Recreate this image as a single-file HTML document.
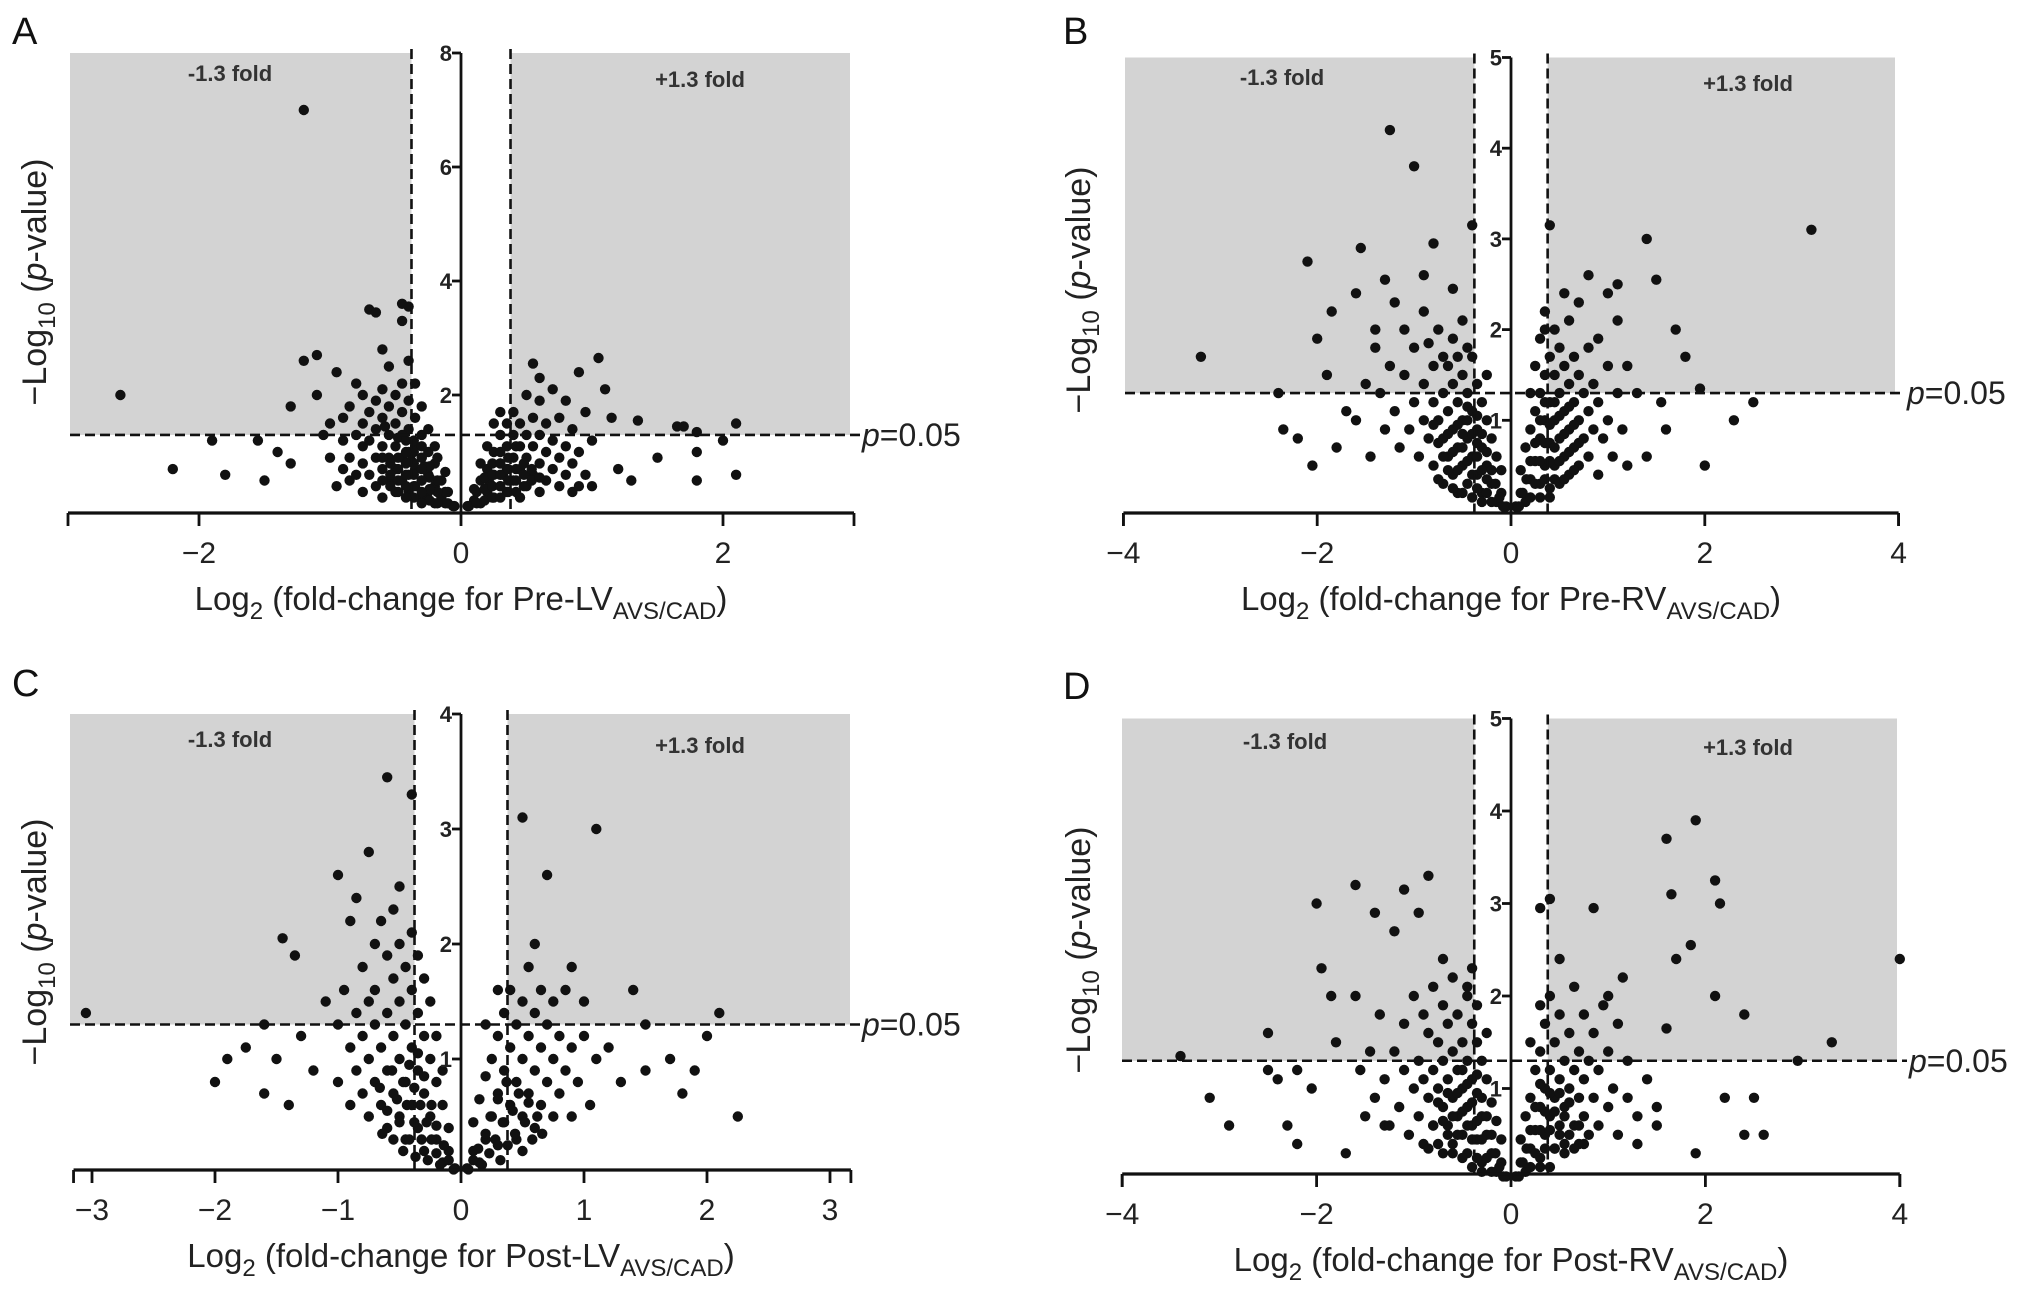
<!DOCTYPE html>
<html><head><meta charset="utf-8">
<style>
html,body{margin:0;padding:0;background:#fff;}
svg{display:block;font-family:"Liberation Sans",Arial,sans-serif;}
</style></head>
<body>
<svg id="fig" width="2032" height="1302" viewBox="0 0 2032 1302"></svg>
<script>
// Panel A data (x: log2 FC, y: -log10 p)
const ptsA=[[-1.2,7.0],[-2.6,2.0],[-2.2,0.7],[-1.9,1.2],[-1.8,0.6],[-1.55,1.2],[-1.5,0.5],[-1.4,1.0],[-1.3,1.8],[-1.3,0.8],[-1.2,2.6],[-1.1,2.7],[-1.1,2.0],[-1.05,1.3],[-1.0,0.9],[-0.95,2.4],[-0.9,1.6],[-0.85,0.5],[-0.8,2.2],[-0.75,1.1],[-0.7,3.5],[-0.65,3.45],[-0.6,2.8],[-0.55,2.5],[-0.45,3.6],[-0.4,3.55],[-0.45,3.3],[-0.4,2.6],
[-0.05,0.05],[-0.1,0.1],[-0.1,0.3],[-0.15,0.2],[-0.15,0.5],[-0.2,0.1],[-0.2,0.4],[-0.2,0.8],[-0.25,0.3],[-0.25,0.6],[-0.25,1.0],[-0.3,0.2],[-0.3,0.5],[-0.3,0.9],[-0.3,1.3],[-0.35,0.4],[-0.35,0.7],[-0.35,1.1],[-0.35,1.6],[-0.4,0.3],[-0.4,0.6],[-0.4,1.0],[-0.4,1.4],[-0.4,1.9],[-0.45,0.5],[-0.45,0.9],[-0.45,1.3],[-0.45,1.7],[-0.45,2.2],[-0.5,0.3],[-0.5,0.7],[-0.5,1.1],[-0.5,1.5],[-0.5,2.0],[-0.55,0.5],[-0.55,0.9],[-0.55,1.3],[-0.55,1.8],[-0.6,0.2],[-0.6,0.7],[-0.6,1.1],[-0.6,1.6],[-0.6,2.1],[-0.65,0.4],[-0.65,0.9],[-0.65,1.4],[-0.65,1.9],[-0.7,0.6],[-0.7,1.2],[-0.7,1.7],[-0.75,0.3],[-0.75,0.8],[-0.75,1.5],[-0.75,2.0],[-0.8,0.6],[-0.8,1.3],[-0.85,0.9],[-0.85,1.8],[-0.9,0.7],[-0.9,1.2],[-0.95,0.4],[-1.0,1.5],[-0.3,1.8],[-0.35,2.2],[-0.25,1.4],[-0.2,1.1],[-0.12,0.65],[-0.18,0.9],[-0.28,0.75],[-0.38,0.85],[-0.48,1.25],[-0.58,1.45],
[0.05,0.05],[0.1,0.15],[0.1,0.35],[0.15,0.1],[0.15,0.5],[0.2,0.3],[0.2,0.7],[0.2,1.1],[0.25,0.2],[0.25,0.6],[0.25,1.0],[0.25,1.5],[0.3,0.4],[0.3,0.8],[0.3,1.3],[0.3,1.7],[0.35,0.3],[0.35,0.7],[0.35,1.1],[0.35,1.5],[0.4,0.5],[0.4,0.9],[0.4,1.3],[0.4,1.7],[0.45,0.2],[0.45,0.7],[0.45,1.1],[0.45,1.5],[0.5,0.4],[0.5,0.9],[0.5,1.3],[0.5,2.0],[0.55,0.6],[0.55,1.1],[0.55,1.6],[0.6,0.3],[0.6,0.8],[0.6,1.3],[0.6,1.9],[0.65,0.5],[0.65,1.0],[0.65,1.5],[0.7,0.7],[0.7,1.2],[0.7,2.1],[0.75,0.4],[0.75,0.9],[0.75,1.6],[0.8,0.6],[0.8,1.1],[0.8,1.9],[0.85,0.3],[0.85,0.8],[0.85,1.4],[0.9,1.0],[0.95,0.6],[0.95,1.7],[1.0,1.2],[1.0,0.4],[0.15,0.8],[0.22,0.45],[0.32,0.6],[0.42,1.1],
[1.05,2.65],[1.1,2.1],[0.9,2.4],[0.55,2.55],[0.6,2.3],[1.15,1.6],[1.35,1.55],[1.65,1.45],[1.7,1.45],[1.8,1.35],[2.1,1.5],[2.0,1.2],[1.8,1.0],[1.5,0.9],[1.8,0.5],[2.1,0.6],[1.2,0.7],[1.3,0.5],[0.9,0.4]];
const coreA=[[-0.06,0.05],[-0.12,0.1],[-0.12,0.3],[-0.18,0.1],[-0.18,0.3],[-0.18,0.5],[-0.24,0.15],[-0.24,0.35],[-0.24,0.55],[-0.24,0.75],[-0.3,0.1],[-0.3,0.3],[-0.3,0.5],[-0.3,0.7],[-0.3,0.9],[-0.3,1.1],[-0.36,0.2],[-0.36,0.4],[-0.36,0.6],[-0.36,0.8],[-0.36,1.0],[-0.36,1.2],[-0.42,0.2],[-0.42,0.4],[-0.42,0.6],[-0.42,0.8],[-0.42,1.0],[-0.42,1.2],[-0.48,0.3],[-0.48,0.5],[-0.48,0.7],[-0.48,0.9],[-0.54,0.4],[-0.54,0.6],[-0.54,0.8],[-0.6,0.5],[-0.6,0.9],
[0.06,0.05],[0.12,0.1],[0.12,0.3],[0.18,0.15],[0.18,0.35],[0.18,0.55],[0.24,0.2],[0.24,0.4],[0.24,0.6],[0.24,0.8],[0.3,0.2],[0.3,0.4],[0.3,0.6],[0.3,0.8],[0.3,1.0],[0.36,0.3],[0.36,0.5],[0.36,0.7],[0.36,0.9],[0.42,0.3],[0.42,0.5],[0.42,0.7],[0.48,0.4],[0.48,0.6],[0.48,0.8],[0.54,0.5],[0.54,0.7],[0.6,0.55]];
// Panel B data
const ptsB=[[-3.2,1.7],[-2.4,1.3],[-2.35,0.9],[-2.1,2.75],[-2.05,0.5],[-1.9,1.5],[-1.8,0.7],[-1.6,2.4],[-1.55,2.9],[-1.4,2.0],[-1.3,2.55],[-1.25,4.2],[-1.2,2.3],[-1.0,3.8],[-0.9,2.6],[-0.8,2.95],[-0.6,2.45],[-0.5,2.1],[-0.4,3.15],[-0.45,1.8],[-1.7,1.1],[-2.2,0.8],[-2.0,1.9],[-1.85,2.2],
[-0.05,0.05],[-0.1,0.2],[-0.1,0.45],[-0.15,0.1],[-0.15,0.6],[-0.2,0.3],[-0.2,0.8],[-0.25,0.5],[-0.25,1.0],[-0.3,0.2],[-0.3,0.7],[-0.3,1.2],[-0.35,0.4],[-0.35,0.9],[-0.35,1.4],[-0.4,0.6],[-0.4,1.1],[-0.45,0.3],[-0.45,0.8],[-0.45,1.3],[-0.5,0.5],[-0.5,1.0],[-0.5,1.5],[-0.55,0.2],[-0.55,0.7],[-0.55,1.2],[-0.6,0.4],[-0.6,0.9],[-0.6,1.4],[-0.6,1.9],[-0.65,0.6],[-0.65,1.1],[-0.7,0.3],[-0.7,0.8],[-0.7,1.3],[-0.7,1.7],[-0.75,1.0],[-0.75,2.0],[-0.8,0.5],[-0.8,1.2],[-0.8,1.6],[-0.85,0.8],[-0.9,1.0],[-0.9,1.4],[-0.9,2.2],[-0.95,0.6],[-1.0,1.2],[-1.0,1.8],[-1.05,0.9],[-1.1,1.5],[-1.1,2.0],[-1.15,0.7],[-1.2,1.1],[-1.25,1.6],[-1.3,0.9],[-1.35,1.3],[-1.4,1.8],[-1.45,0.6],[-1.5,1.4],[-1.6,1.0],[-0.25,1.5],[-0.4,1.7],[-0.55,1.7],[-0.65,1.6],[-0.85,1.85],
[0.05,0.05],[0.1,0.2],[0.1,0.45],[0.15,0.1],[0.15,0.7],[0.2,0.35],[0.2,0.9],[0.25,0.55],[0.25,1.1],[0.25,1.6],[0.3,0.3],[0.3,0.8],[0.3,1.3],[0.3,1.9],[0.35,0.5],[0.35,1.0],[0.35,1.5],[0.4,0.25],[0.4,0.75],[0.4,1.2],[0.4,1.7],[0.45,0.5],[0.45,1.0],[0.45,1.5],[0.45,2.0],[0.5,0.3],[0.5,0.8],[0.5,1.3],[0.5,1.8],[0.55,0.6],[0.55,1.1],[0.55,1.6],[0.6,0.4],[0.6,0.9],[0.6,1.4],[0.6,2.1],[0.65,0.7],[0.65,1.2],[0.65,1.7],[0.7,0.5],[0.7,1.0],[0.7,1.5],[0.7,2.3],[0.75,0.8],[0.75,1.3],[0.8,0.6],[0.8,1.1],[0.8,1.8],[0.85,0.9],[0.85,1.4],[0.9,0.4],[0.9,1.2],[0.9,1.9],[0.95,0.8],[1.0,1.0],[1.0,1.6],[1.05,0.6],[1.1,1.3],[1.1,2.1],[1.15,0.9],[1.2,0.5],[0.2,1.3],[0.35,2.0],
[0.35,2.2],[0.4,3.15],[0.55,2.4],[0.8,2.6],[1.0,2.4],[1.1,2.5],[1.2,1.6],[1.4,3.0],[1.5,2.55],[1.55,1.2],[1.7,2.0],[1.8,1.7],[1.6,0.9],[2.0,0.5],[2.3,1.0],[2.5,1.2],[3.1,3.1],[1.4,0.6],[1.3,1.3],[1.95,1.35]];
const coreB=[[-0.08,0.05],[-0.12,0.15],[-0.16,0.3],[-0.2,0.1],[-0.2,0.45],[-0.25,0.2],[-0.25,0.35],[-0.25,0.65],[-0.3,0.1],[-0.3,0.45],[-0.3,0.85],[-0.35,0.25],[-0.35,0.6],[-0.35,0.75],[-0.35,1.05],[-0.4,0.15],[-0.4,0.4],[-0.4,0.85],[-0.45,0.55],[-0.45,1.0],[-0.45,1.15],[-0.5,0.2],[-0.5,0.7],[-0.5,0.85],[-0.55,0.45],[-0.55,0.95],[-0.6,0.25],[-0.6,0.65],[-0.65,0.45],[-0.65,0.85],[-0.7,0.6],[-0.75,0.35],[-0.75,0.75],[-0.8,0.95],
[0.08,0.05],[0.12,0.2],[0.16,0.35],[0.2,0.15],[0.2,0.55],[0.25,0.3],[0.25,0.75],[0.3,0.15],[0.3,0.55],[0.3,1.0],[0.35,0.35],[0.35,0.75],[0.35,1.2],[0.4,0.15],[0.4,0.55],[0.4,0.95],[0.45,0.35],[0.45,0.7],[0.45,1.2],[0.5,0.55],[0.5,1.05],[0.55,0.35],[0.55,0.85],[0.6,0.65],[0.6,1.15],[0.65,0.45],[0.65,0.95],[0.7,0.75]];
// Panel C data
const ptsC=[[-3.05,1.4],[-2.0,0.8],[-1.9,1.0],[-1.75,1.1],[-1.6,1.3],[-1.5,1.0],[-1.45,2.05],[-1.35,1.9],[-1.3,1.2],[-1.2,0.9],[-1.1,1.5],[-1.0,2.6],[-0.9,2.2],[-0.85,2.4],[-0.75,2.8],[-0.6,3.45],[-0.4,3.3],[-0.5,2.5],[-0.35,1.9],[-0.7,1.6],[-1.6,0.7],[-1.4,0.6],
[-0.05,0.05],[-0.1,0.2],[-0.1,0.4],[-0.15,0.1],[-0.15,0.6],[-0.2,0.3],[-0.2,0.8],[-0.25,0.5],[-0.25,1.0],[-0.3,0.2],[-0.3,0.7],[-0.3,1.2],[-0.3,1.7],[-0.35,0.4],[-0.35,0.9],[-0.35,1.4],[-0.4,0.6],[-0.4,1.1],[-0.4,1.6],[-0.4,2.1],[-0.45,0.3],[-0.45,0.8],[-0.45,1.3],[-0.45,1.8],[-0.5,0.5],[-0.5,1.0],[-0.5,1.5],[-0.5,2.0],[-0.55,0.7],[-0.55,1.2],[-0.55,1.7],[-0.55,2.3],[-0.6,0.4],[-0.6,0.9],[-0.6,1.4],[-0.6,1.9],[-0.65,0.6],[-0.65,1.1],[-0.65,2.2],[-0.7,0.8],[-0.7,1.3],[-0.7,2.0],[-0.75,0.5],[-0.75,1.0],[-0.75,1.5],[-0.8,0.7],[-0.8,1.2],[-0.8,1.8],[-0.85,0.9],[-0.85,1.4],[-0.9,0.6],[-0.9,1.1],[-0.95,1.6],[-1.0,0.8],[-1.0,1.3],[-0.2,1.2],[-0.25,1.5],[-0.15,0.9],
[0.05,0.05],[0.1,0.2],[0.1,0.45],[0.15,0.1],[0.15,0.65],[0.2,0.3],[0.2,0.85],[0.25,0.5],[0.25,1.0],[0.3,0.25],[0.3,0.7],[0.3,1.2],[0.35,0.45],[0.35,0.9],[0.35,1.4],[0.4,0.6],[0.4,1.1],[0.4,1.6],[0.45,0.3],[0.45,0.8],[0.45,1.3],[0.5,0.5],[0.5,1.0],[0.5,1.5],[0.55,0.7],[0.55,1.2],[0.55,1.8],[0.6,0.4],[0.6,0.9],[0.6,1.4],[0.65,0.6],[0.65,1.1],[0.65,1.6],[0.7,0.8],[0.7,1.3],[0.75,0.5],[0.75,1.0],[0.75,1.5],[0.8,0.7],[0.8,1.2],[0.85,0.9],[0.85,1.6],[0.9,0.5],[0.9,1.1],[0.95,0.8],[1.0,1.2],[1.05,0.6],[1.1,1.0],[0.2,1.3],[0.3,1.6],
[0.5,3.1],[0.7,2.6],[1.1,3.0],[0.9,1.8],[1.0,1.5],[1.4,1.6],[1.5,1.3],[1.7,1.0],[1.8,0.7],[1.9,0.9],[2.0,1.2],[2.25,0.5],[2.1,1.4],[1.3,0.8],[1.2,1.1],[0.6,2.0],[1.5,0.9]];
const coreC=[[-0.06,0.04],[-0.1,0.12],[-0.14,0.25],[-0.17,0.08],[-0.2,0.18],[-0.2,0.42],[-0.24,0.3],[-0.24,0.6],[-0.27,0.12],[-0.28,0.45],[-0.3,0.85],[-0.32,0.3],[-0.33,0.6],[-0.35,1.05],[-0.37,0.15],[-0.38,0.45],[-0.38,0.75],[-0.42,0.3],[-0.42,0.95],[-0.44,0.6],[-0.47,0.2],[-0.47,0.8],[-0.5,0.45],[-0.52,0.65],[-0.55,0.3],[-0.56,0.9],[-0.6,0.55],[-0.64,0.35],[-0.66,0.75],
[0.06,0.04],[0.1,0.12],[0.14,0.22],[0.17,0.08],[0.2,0.35],[0.23,0.18],[0.24,0.5],[0.28,0.3],[0.3,0.65],[0.32,0.12],[0.34,0.45],[0.37,0.8],[0.38,0.25],[0.42,0.55],[0.44,0.35],[0.47,0.7],[0.5,0.2],[0.52,0.45],[0.55,0.62],[0.58,0.3],[0.62,0.5],[0.66,0.35]];
// Panel D data
const ptsD=[[-3.4,1.35],[-3.1,0.9],[-2.9,0.6],[-2.5,1.6],[-2.5,1.2],[-2.4,1.1],[-2.3,0.6],[-2.2,1.2],[-2.2,0.4],[-2.0,3.0],[-1.95,2.3],[-1.85,2.0],[-1.6,3.2],[-1.4,2.9],[-1.2,2.7],[-1.1,3.15],[-0.95,2.9],[-0.85,3.3],[-0.7,2.4],[-0.45,2.1],[-0.35,1.9],[-1.7,0.3],[-1.3,0.6],[-1.8,1.5],[-2.05,1.0],[-1.6,2.0],
[-0.05,0.05],[-0.1,0.2],[-0.1,0.45],[-0.15,0.1],[-0.15,0.65],[-0.2,0.3],[-0.2,0.85],[-0.25,0.5],[-0.25,1.1],[-0.3,0.2],[-0.3,0.7],[-0.3,1.3],[-0.35,0.45],[-0.35,0.95],[-0.35,1.5],[-0.4,0.6],[-0.4,1.1],[-0.4,1.7],[-0.45,0.3],[-0.45,0.8],[-0.45,1.3],[-0.45,2.0],[-0.5,0.5],[-0.5,1.0],[-0.5,1.5],[-0.55,0.7],[-0.55,1.2],[-0.55,1.8],[-0.6,0.4],[-0.6,0.9],[-0.6,1.4],[-0.6,2.2],[-0.65,0.6],[-0.65,1.1],[-0.65,1.7],[-0.7,0.3],[-0.7,0.8],[-0.7,1.3],[-0.7,1.9],[-0.75,1.0],[-0.75,1.5],[-0.8,0.6],[-0.8,1.2],[-0.8,2.1],[-0.85,0.9],[-0.85,1.6],[-0.9,0.4],[-0.9,1.1],[-0.9,1.8],[-0.95,0.7],[-0.95,1.3],[-1.0,1.0],[-1.0,2.0],[-1.05,0.5],[-1.1,1.2],[-1.1,1.7],[-1.15,0.8],[-1.2,1.4],[-1.25,0.6],[-1.3,1.1],[-1.35,1.8],[-1.4,0.9],[-1.45,1.4],[-1.5,0.7],[-1.55,1.2],[-0.25,1.6],[-0.4,2.3],
[0.05,0.05],[0.1,0.2],[0.1,0.45],[0.15,0.1],[0.15,0.7],[0.2,0.35],[0.2,0.9],[0.25,0.55],[0.25,1.2],[0.3,0.25],[0.3,0.8],[0.3,1.4],[0.35,0.5],[0.35,1.0],[0.35,1.7],[0.4,0.7],[0.4,1.2],[0.4,2.0],[0.45,0.35],[0.45,0.9],[0.45,1.5],[0.5,0.6],[0.5,1.1],[0.5,1.8],[0.55,0.4],[0.55,0.8],[0.55,1.3],[0.6,1.0],[0.6,1.6],[0.65,0.6],[0.65,1.2],[0.65,2.1],[0.7,0.4],[0.7,0.9],[0.7,1.4],[0.75,0.7],[0.75,1.1],[0.75,1.8],[0.8,0.5],[0.8,1.3],[0.85,0.9],[0.85,1.6],[0.9,0.6],[0.9,1.2],[0.95,1.9],[1.0,0.8],[1.0,1.4],[1.05,1.0],[1.1,0.5],[1.1,1.7],[1.2,0.9],[1.2,1.3],[1.3,0.7],[1.4,1.1],[1.5,0.6],[0.2,1.5],[0.3,1.9],
[0.4,3.05],[0.3,2.95],[0.5,2.4],[0.85,2.95],[1.0,2.0],[1.15,2.2],[1.6,3.7],[1.65,3.1],[1.7,2.4],[1.9,3.9],[1.85,2.55],[2.1,3.25],[2.15,3.0],[2.1,2.0],[2.4,1.8],[2.95,1.3],[3.3,1.5],[4.0,2.4],[1.6,1.65],[2.5,0.9],[2.6,0.5],[2.2,0.9],[1.9,0.3],[2.4,0.5],[1.5,0.8],[1.3,0.4]];
const coreD=[[-0.08,0.05],[-0.12,0.15],[-0.16,0.3],[-0.2,0.1],[-0.2,0.5],[-0.25,0.25],[-0.25,0.7],[-0.3,0.1],[-0.3,0.45],[-0.3,0.9],[-0.35,0.25],[-0.35,0.65],[-0.35,1.15],[-0.4,0.15],[-0.4,0.45],[-0.4,0.85],[-0.45,0.6],[-0.45,1.05],[-0.5,0.25],[-0.5,0.75],[-0.5,1.2],[-0.55,0.5],[-0.55,0.95],[-0.6,0.3],[-0.6,0.7],[-0.65,0.5],[-0.65,0.95],[-0.7,0.65],[-0.75,0.4],[-0.75,0.85],[-0.8,0.6],[-0.85,0.35],
[0.08,0.05],[0.12,0.2],[0.16,0.35],[0.2,0.15],[0.2,0.55],[0.25,0.3],[0.25,0.8],[0.3,0.15],[0.3,0.55],[0.3,1.05],[0.35,0.35],[0.35,0.75],[0.4,0.15],[0.4,0.55],[0.4,0.95],[0.45,0.35],[0.45,0.75],[0.5,0.5],[0.5,0.95],[0.55,0.3],[0.55,0.7],[0.6,0.5],[0.6,0.85],[0.65,0.35],[0.7,0.6],[0.75,0.4]];
// Ticks
const xTicksA=[-2,0,2], xTicksB=[-4,-2,0,2,4], xTicksC=[-3,-2,-1,0,1,2,3], xTicksD=[-4,-2,0,2,4];
const yTicksA=[2,4,6,8], yTicksB=[1,2,3,4,5], yTicksC=[1,2,3,4], yTicksD=[1,2,3,4,5];
const pThreshold=1.3, foldThreshold=0.378;

const NS='http://www.w3.org/2000/svg';
const svg=document.getElementById('fig');
function mk(tag,attrs,parent){const e=document.createElementNS(NS,tag);for(const k in attrs)e.setAttribute(k,attrs[k]);(parent||svg).appendChild(e);return e;}

const panels=[
 {id:'a',letter:'A',lx:12,ly:44,x0:461,xu:131,xmin:-3,xmax:3,y0:509,yu:57,ymax:8,gl:70,gr:850,axisY:513,pts:ptsA,core:coreA,xt:xTicksA,yt:yTicksA,title:'Pre-LV',ytx:36,ytc:282,negX:230,negY:81,posX:700,posY:87},
 {id:'b',letter:'B',lx:1063,ly:44,x0:1511,xu:96.9,xmin:-4,xmax:4,y0:511,yu:90.7,ymax:5,gl:1125,gr:1895,axisY:513,pts:ptsB,core:coreB,xt:xTicksB,yt:yTicksB,title:'Pre-RV',ytx:1080,ytc:290,negX:1282,negY:85,posX:1748,posY:91},
 {id:'c',letter:'C',lx:12,ly:696,x0:461,xu:123,xmin:-3.15,xmax:3.17,y0:1174,yu:115,ymax:4,gl:70,gr:850,axisY:1170,pts:ptsC,core:coreC,xt:xTicksC,yt:yTicksC,title:'Post-LV',ytx:36,ytc:942,negX:230,negY:747,posX:700,posY:753},
 {id:'d',letter:'D',lx:1063,ly:699,x0:1511,xu:97.2,xmin:-4,xmax:4,y0:1181,yu:92.5,ymax:5,gl:1122,gr:1897,axisY:1174,pts:ptsD,core:coreD,xt:xTicksD,yt:yTicksD,title:'Post-RV',ytx:1080,ytc:950,negX:1285,negY:749,posX:1748,posY:755}
];

panels.forEach(p=>{
 const sx=v=>p.x0+v*p.xu, sy=v=>p.y0-v*p.yu;
 const g=mk('g',{});
 
 
 const top=sy(p.ymax);
 const r1=mk('rect',{x:p.gl,y:top,width:sx(-foldThreshold)-p.gl,height:sy(pThreshold)-top,fill:'#d3d3d3'},g);
 
 
 const r2=mk('rect',{x:sx(foldThreshold),y:top,width:p.gr-sx(foldThreshold),height:sy(pThreshold)-top,fill:'#d3d3d3'},g);
 
 
 const pg=mk('g',{fill:'#111'},g);
 
 
 p.pts.concat(p.core).forEach(d=>{
  const c=mk('circle',{cx:sx(d[0]).toFixed(1),cy:sy(d[1]).toFixed(1),r:5.2},pg);
  
  
 });
 [-foldThreshold,foldThreshold].forEach(v=>{
  const l=mk('line',{x1:sx(v),x2:sx(v),y1:top-4,y2:p.axisY,stroke:'#111','stroke-width':2.6,'stroke-dasharray':'10,5'},g);
  
  
 });
 const hl=mk('line',{x1:p.gl,x2:p.gr+10,y1:sy(pThreshold),y2:sy(pThreshold),stroke:'#111','stroke-width':2.6,'stroke-dasharray':'10,5'},g);
 
 
 const pt=mk('text',{x:p.gr+12,y:sy(pThreshold)+11,'font-size':32,fill:'#222'},g);
 pt.innerHTML='<tspan font-style="italic">p</tspan>=0.05';
 
 
 const xa=mk('line',{x1:sx(p.xmin),x2:sx(p.xmax),y1:p.axisY,y2:p.axisY,stroke:'#111','stroke-width':3.2},g);
 
 
 const ya=mk('line',{x1:p.x0,x2:p.x0,y1:top,y2:p.axisY,stroke:'#111','stroke-width':2.8},g);
 
 
 [p.xmin,p.xmax].forEach(v=>{mk('line',{x1:sx(v),x2:sx(v),y1:p.axisY,y2:p.axisY+13,stroke:'#111','stroke-width':2.8},g);});
 p.xt.forEach(v=>{
  mk('line',{x1:sx(v),x2:sx(v),y1:p.axisY,y2:p.axisY+13,stroke:'#111','stroke-width':2.8},g);
  const t=mk('text',{x:sx(v),y:p.axisY+50,'text-anchor':'middle','font-size':30,fill:'#222'},g);
  t.textContent=v<0?'\u2212'+Math.abs(v):String(v);
  
  
 });
 p.yt.forEach(v=>{
  mk('line',{x1:p.x0-9,x2:p.x0,y1:sy(v),y2:sy(v),stroke:'#111','stroke-width':2.8},g);
  const t=mk('text',{x:p.x0-9,y:sy(v)+8,'text-anchor':'end','font-size':22,'font-weight':'bold',fill:'#222'},g);
  t.textContent=String(v);
  
  
 });
 const nl=mk('text',{x:p.negX,y:p.negY,'text-anchor':'middle','font-size':22,'font-weight':'bold',fill:'#333'},g);
 nl.textContent='-1.3 fold';
 
 
 const pl=mk('text',{x:p.posX,y:p.posY,'text-anchor':'middle','font-size':22,'font-weight':'bold',fill:'#333'},g);
 pl.textContent='+1.3 fold';
 
 
 const xt=mk('text',{x:p.x0,y:p.axisY+97,'text-anchor':'middle','font-size':33,fill:'#222'},g);
 xt.innerHTML='Log<tspan font-size="24" dy="9">2</tspan><tspan dy="-9"> (fold-change for '+p.title+'</tspan><tspan font-size="24" dy="9">AVS/CAD</tspan><tspan dy="-9">)</tspan>';
 
 
 const yt=mk('text',{x:0,y:0,'text-anchor':'middle','font-size':34,fill:'#222',transform:'translate('+(p.ytx+10)+','+p.ytc+') rotate(-90)'},g);
 yt.innerHTML='\u2212Log<tspan font-size="24" dy="9">10</tspan><tspan dy="-9"> (</tspan><tspan font-style="italic">p</tspan>-value)';
 
 
 const lt=mk('text',{x:p.lx,y:p.ly,'font-size':38,fill:'#111'},g);
 lt.textContent=p.letter;
 
 
});
</script>
</body></html>
